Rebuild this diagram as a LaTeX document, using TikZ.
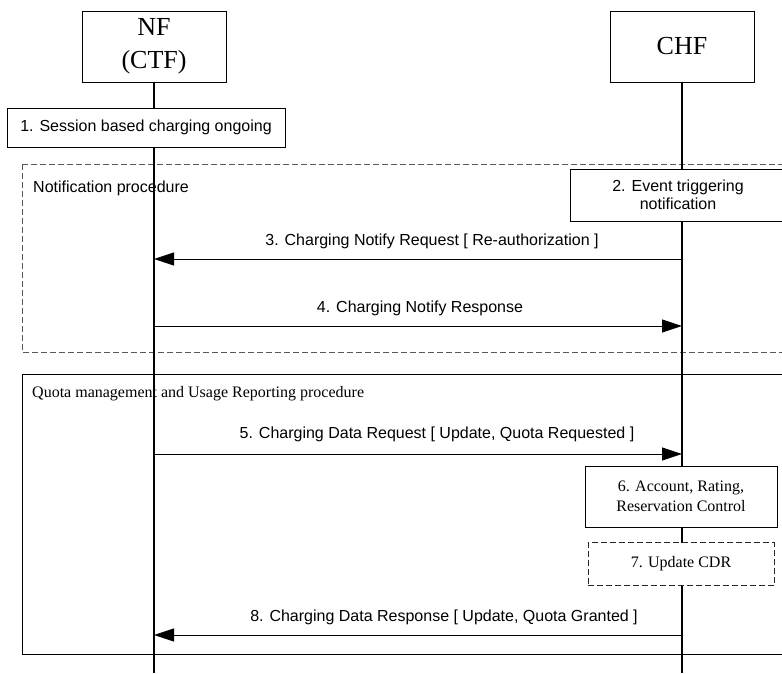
\documentclass[tikz,border=0pt]{standalone}
\usepackage{fontspec}
\setmainfont{Liberation Serif}
\setsansfont{Liberation Sans}
\usetikzlibrary{arrows.meta}
\begin{document}
\begin{tikzpicture}[x=1pt,y=-1pt,
  sans/.style={font=\sffamily\fontsize{16}{18}\selectfont},
  serifsix/.style={font=\rmfamily\fontsize{16}{20}\selectfont},
  entity/.style={draw, line width=0.8pt, fill=white, minimum width=144pt, minimum height=71pt, inner sep=0pt, font=\rmfamily\fontsize{26}{33}\selectfont, align=center},
  stepbox/.style={draw, line width=0.8pt, fill=white, inner sep=0pt, align=center},
  dashbox/.style={dash pattern=on 6pt off 3pt},
  lifeline/.style={line width=1.4pt},
  msg/.style={line width=0.8pt, -{Triangle[length=20pt,width=13pt]}},
  frame/.style={line width=0.8pt},
  lbl/.style={sans, anchor=base, inner sep=0pt}
]
\useasboundingbox (0,0) rectangle (782,673);
% frames
\draw[frame, dashbox, draw=black!65] (22,164) rectangle (800,352);
\draw[frame] (22,374) rectangle (800,654);
\node[sans, anchor=base west, inner sep=0pt] (notifl) at (33,192) {Notification procedure};
\node[serifsix, anchor=base west, inner sep=0pt] (quotal) at (32,397) {Quota management and Usage Reporting procedure};
% entities and lifelines
\node[entity] (nf) at (154,46.5) {NF\\(CTF)};
\node[entity] (chf) at (682,46.5) {CHF};
\coordinate (nfend) at (154,673);
\coordinate (chfend) at (682,673);
\draw[lifeline] (nf.south) -- (nfend);
\draw[lifeline] (chf.south) -- (chfend);
% step boxes
\node[stepbox, sans, minimum width=278pt, minimum height=39pt] (s1) at (146,127.5) {1. Session based charging ongoing};
\node[stepbox, sans, minimum width=216pt, minimum height=52pt] (s2) at (678,195) {2. Event triggering\\notification};
\node[stepbox, serifsix, minimum width=192pt, minimum height=61pt] (s6) at (681,496.5) {6. Account, Rating,\\Reservation Control};
\node[stepbox, dashbox, draw=black!85, serifsix, minimum width=186pt, minimum height=43pt] (s7) at (681,564) {7. Update CDR};
% messages
\coordinate (m3a) at (682,259); \coordinate (m3b) at (154,259);
\coordinate (m4a) at (154,326); \coordinate (m4b) at (682,326);
\coordinate (m5a) at (154,454); \coordinate (m5b) at (682,454);
\coordinate (m8a) at (682,635); \coordinate (m8b) at (154,635);
\draw[msg] (m3a) -- (m3b);
\draw[msg] (m4a) -- (m4b);
\draw[msg] (m5a) -- (m5b);
\draw[msg] (m8a) -- (m8b);
\node[lbl] (l3) at (432,245) {3. Charging Notify Request [ Re-authorization ]};
\node[lbl] (l4) at (420,312) {4. Charging Notify Response};
\node[lbl] (l5) at (437,438) {5. Charging Data Request [ Update, Quota Requested ]};
\node[lbl] (l8) at (444,621) {8. Charging Data Response [ Update, Quota Granted ]};
\end{tikzpicture}
\end{document}
